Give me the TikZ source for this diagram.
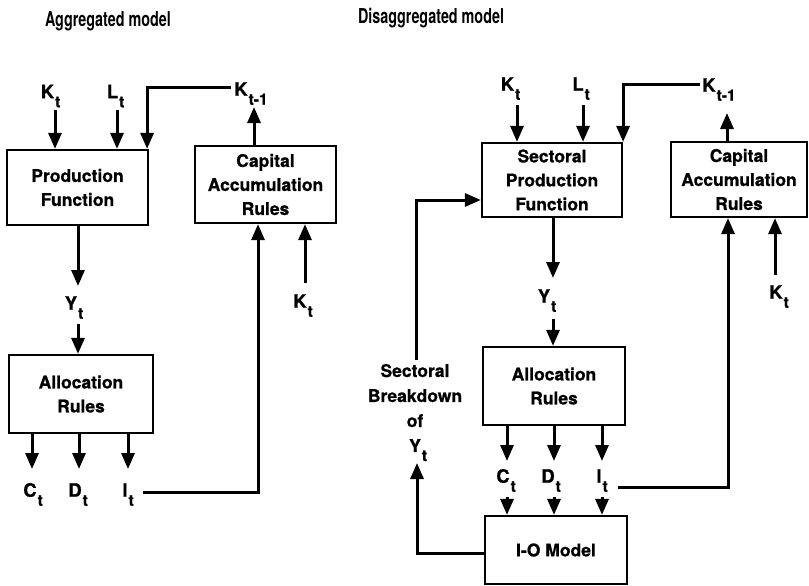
\documentclass[tikz,border=0pt]{standalone}
\usepackage{fontspec}
\setmainfont{TeX Gyre Heros}[BoldFeatures={FakeBold=0.8}]
\newfontfamily\titlefont[FakeStretch=0.7]{TeX Gyre Heros}
\usetikzlibrary{arrows.meta,calc}
\newcommand{\sub}[2]{#1\rlap{\kern1pt\smash{\raisebox{-9pt}{\fontsize{15.5}{15.5}\selectfont #2}}}}
\begin{document}
\begin{tikzpicture}[x=1pt,y=-1pt,
  box/.style={draw,line width=2.2pt,align=center,inner sep=0pt,
    font=\fontsize{17.5}{24}\selectfont\bfseries},
  lab/.style={inner sep=0pt,font=\fontsize{18.5}{18.5}\selectfont\bfseries},
  side/.style={inner sep=0pt,align=center,font=\fontsize{17.5}{25}\selectfont\bfseries},
  con/.style={line width=3pt},
  arr/.style={con,-{Triangle[width=13pt,length=16pt]}},
  ttl/.style={inner sep=0pt,font=\titlefont\fontsize{20.5}{20.5}\selectfont\bfseries}]
\useasboundingbox (0,0) rectangle (809,586);

% ---------- Aggregated model ----------
\node[ttl] (t1) at (108,21) {Aggregated model};
\node[box,minimum width=141pt,minimum height=75pt] (pf) at (77.5,187.5) {Production\\Function};
\node[box,minimum width=141pt,minimum height=77pt] (ca1) at (265.5,184.5) {Capital\\Accumulation\\Rules};
\node[box,minimum width=144pt,minimum height=78pt] (ar1) at (81,394) {Allocation\\Rules};

\node[lab] (kt1) at (47.5,91.5) {\sub{K}{t}};
\node[lab] (lt1) at (112.5,91.5) {\sub{L}{t}};
\node[lab] (km1) at (241,89) {\sub{K}{t-1}};
\node[lab] (yt1) at (71,303) {\sub{Y}{t}};
\node[lab] (ct1) at (30,490) {\sub{C}{t}};
\node[lab] (dt1) at (75,490) {\sub{D}{t}};
\node[lab] (it1) at (125,490) {\sub{I}{t}};
\node[lab] (kb1) at (300,301) {\sub{K}{t}};

\coordinate (kt1s) at (55,110);
\coordinate (lt1s) at (117,110);
\coordinate (km1w) at (231,88);
\coordinate (km1s) at (254,107);
\coordinate (yt1n) at (78,286);
\coordinate (yt1s) at (78,324);
\coordinate (ct1n) at (32,469);
\coordinate (dt1n) at (79,469);
\coordinate (it1n) at (128,469);
\coordinate (it1e) at (143,492);
\coordinate (kb1n) at (305,283);

\draw[arr] (kt1s) -- (kt1s |- pf.north);
\draw[arr] (lt1s) -- (lt1s |- pf.north);
\draw[arr] (km1w) -| ($(pf.north east)+(-2,0)$);
\draw[arr] (km1s |- ca1.north) -- (km1s);
\draw[arr] (yt1n |- pf.south) -- (yt1n);
\draw[arr] (yt1s) -- (yt1s |- ar1.north);
\draw[arr] (ct1n |- ar1.south) -- (ct1n);
\draw[arr] (dt1n |- ar1.south) -- (dt1n);
\draw[arr] (it1n |- ar1.south) -- (it1n);
\draw[arr] (it1e) -| ($(ca1.south)+(-7.5,0)$);
\draw[arr] (kb1n) -- (kb1n |- ca1.south);

% ---------- Disaggregated model ----------
\node[ttl] (t2) at (431,18) {Disaggregated model};
\node[box,minimum width=140pt,minimum height=74pt] (spf) at (552,180) {Sectoral\\Production\\Function};
\node[box,minimum width=136pt,minimum height=75pt] (ca2) at (739,179.5) {Capital\\Accumulation\\Rules};
\node[box,minimum width=142pt,minimum height=78pt] (ar2) at (554,386) {Allocation\\Rules};
\node[box,minimum width=142pt,minimum height=68pt] (io) at (556,550) {I-O Model};

\node[lab] (kt2) at (507.5,84) {\sub{K}{t}};
\node[lab] (lt2) at (578,84) {\sub{L}{t}};
\node[lab] (km2) at (709,85) {\sub{K}{t-1}};
\node[lab] (yt2) at (544,296) {\sub{Y}{t}};
\node[lab] (ct2) at (503,476) {\sub{C}{t}};
\node[lab] (dt2) at (548,476) {\sub{D}{t}};
\node[lab] (it2) at (599,476) {\sub{I}{t}};
\node[lab] (kb2) at (776,292) {\sub{K}{t}};
\node[side] (sb) at (415,408) {Sectoral\\Breakdown\\of\\\sub{Y}{t}};

\coordinate (kt2s) at (517,105);
\coordinate (lt2s) at (583,105);
\coordinate (km2w) at (700,85);
\coordinate (km2s) at (727,113);
\coordinate (yt2n) at (553,278);
\coordinate (yt2s) at (553,319);
\coordinate (ct2n) at (507,461);
\coordinate (dt2n) at (554,461);
\coordinate (it2n) at (602,461);
\coordinate (ct2s) at (507,497);
\coordinate (dt2s) at (554,497);
\coordinate (it2s) at (602,497);
\coordinate (it2e) at (618,487);
\coordinate (kb2n) at (775,275);
\coordinate (sbt) at (416,360);
\coordinate (sbb) at (417,463);

\draw[arr] (kt2s) -- (kt2s |- spf.north);
\draw[arr] (lt2s) -- (lt2s |- spf.north);
\draw[arr] (km2w) -| (spf.north east);
\draw[arr] (km2s |- ca2.north) -- (km2s);
\draw[arr] (yt2n |- spf.south) -- (yt2n);
\draw[arr] (yt2s) -- (yt2s |- ar2.north);
\draw[arr] (ct2n |- ar2.south) -- (ct2n);
\draw[arr] (dt2n |- ar2.south) -- (dt2n);
\draw[arr] (it2n |- ar2.south) -- (it2n);
\draw[arr] (ct2s) -- (ct2s |- io.north);
\draw[arr] (dt2s) -- (dt2s |- io.north);
\draw[arr] (it2s) -- (it2s |- io.north);
\draw[arr] (it2e) -| ($(ca2.south)+(-11,0)$);
\draw[arr] (kb2n) -- (kb2n |- ca2.south);
\draw[arr] (sbt) |- ($(spf.west)+(0,20)$);
\draw[arr] ($(io.west)+(0,3)$) -| (sbb);
\end{tikzpicture}
\end{document}
